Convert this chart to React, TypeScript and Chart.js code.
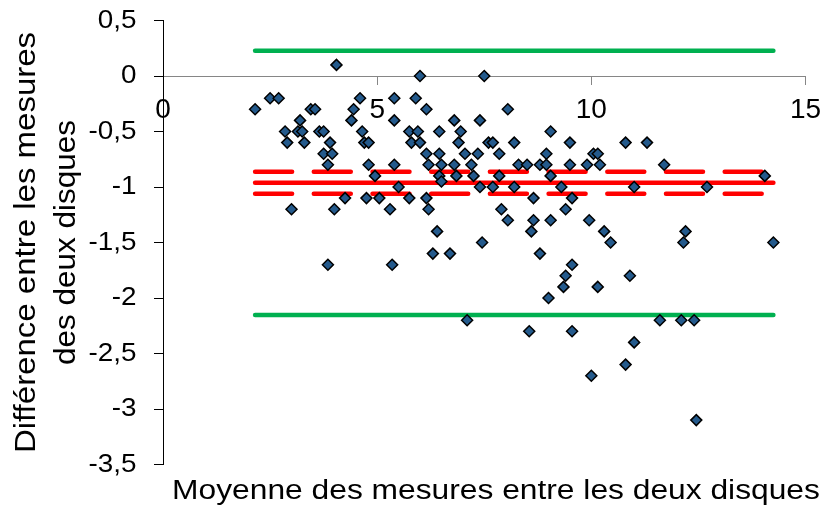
import React, { useEffect, useRef } from 'react';
import { Chart, registerables } from 'chart.js';

Chart.register(...registerables);

// Moyenne des mesures (x) et différence (y) pour chaque paire
const meanX = [
  4.05, 2.15, 2.5, 2.7, 3.45, 3.55, 3.2, 2.85, 3.15, 3.25,
  2.9, 3.3, 3.65, 3.75, 3.9, 3.75, 3.95, 3.85, 4.6, 4.45,
  4.4, 4.65, 4.7, 4.8, 4.8, 4.95, 5.4, 5.4, 5.4, 5.5,
  4.25, 4.75, 5.05, 3.0, 4.0, 5.3, 3.85, 5.35, 6.0, 7.5,
  5.9, 6.15, 8.05, 6.8, 7.4, 5.75, 5.95, 6.45, 6.95, 5.8,
  6.0, 6.9, 7.6, 7.7, 8.2, 6.15, 6.45, 7.05, 7.35, 7.85,
  8.95, 6.2, 6.5, 6.8, 7.2, 8.3, 8.5, 8.8, 8.95, 6.45,
  6.85, 7.25, 7.85, 6.5, 7.4, 7.7, 8.2, 5.75, 6.15, 8.65,
  6.2, 7.9, 8.05, 8.65, 9.05, 8.6, 6.4, 7.45, 6.3, 6.7,
  8.8, 9.0, 7.1, 8.55, 9.05, 9.5, 10.8, 11.3, 10.05, 10.15,
  9.5, 9.9, 10.2, 11.7, 9.05, 9.3, 11.0, 9.55, 9.4, 9.95,
  10.3, 10.45, 12.2, 12.15, 9.55, 9.4, 9.35, 10.15, 10.9, 11.6,
  12.1, 12.4, 9.55, 11.0, 10.8, 10.0, 12.45, 14.05, 12.7, 14.25
];
const diffY = [
  0.1, -0.3, -0.2, -0.2, -0.3, -0.3, -0.4, -0.5, -0.5, -0.5,
  -0.6, -0.6, -0.5, -0.5, -0.6, -0.7, -0.7, -0.8, -0.2, -0.3,
  -0.4, -0.5, -0.6, -0.6, -0.8, -0.9, -0.2, -0.4, -0.8, -1.0,
  -1.1, -1.1, -1.1, -1.2, -1.2, -1.2, -1.7, -1.7, 0.0, 0.0,
  -0.2, -0.3, -0.3, -0.4, -0.4, -0.5, -0.5, -0.5, -0.5, -0.6,
  -0.6, -0.6, -0.6, -0.6, -0.6, -0.7, -0.7, -0.7, -0.7, -0.7,
  -0.7, -0.8, -0.8, -0.8, -0.8, -0.8, -0.8, -0.8, -0.8, -0.9,
  -0.9, -0.9, -0.9, -0.95, -1.0, -1.0, -1.0, -1.1, -1.1, -1.1,
  -1.2, -1.2, -1.3, -1.3, -1.3, -1.4, -1.4, -1.5, -1.6, -1.6,
  -1.6, -2.0, -2.2, -2.3, -0.5, -0.6, -0.6, -0.6, -0.7, -0.7,
  -0.8, -0.8, -0.8, -0.8, -0.9, -1.0, -1.0, -1.1, -1.2, -1.3,
  -1.4, -1.5, -1.4, -1.5, -1.7, -1.8, -1.9, -1.9, -1.8, -2.2,
  -2.2, -2.2, -2.3, -2.4, -2.6, -2.7, -3.1, -0.9, -1.0, -1.5
];

// Limites d'agrément, biais moyen et son intervalle de confiance
const limitsY = [0.228, -2.153];
const biasY = -0.961;
const biasCIY = [-0.862, -1.06];
const lineX = [2.15, 14.25];

const xTicks = [0, 5, 10, 15];
const yTicks = [0.5, 0, -0.5, -1, -1.5, -2, -2.5, -3, -3.5];

const xTitle = 'Moyenne des mesures entre les deux disques';
const yTitle = ['Différence entre les mesures', 'des deux disques'];

const FONT = '"Liberation Sans", Arial, sans-serif';

function drawText(
  ctx: CanvasRenderingContext2D,
  text: string,
  x: number,
  y: number,
  size: number,
  sx: number,
  align: CanvasTextAlign,
  baseline: CanvasTextBaseline,
  rotate = 0
) {
  ctx.save();
  ctx.translate(x, y);
  if (rotate) ctx.rotate(rotate);
  ctx.scale(sx, 1);
  ctx.font = `${size}px ${FONT}`;
  ctx.fillStyle = '#000';
  ctx.textAlign = align;
  ctx.textBaseline = baseline;
  ctx.fillText(text, 0, 0);
  ctx.restore();
}

const textPlugin = {
  id: 'excelText',
  afterDraw(chart: any) {
    const ctx = chart.ctx as CanvasRenderingContext2D;
    const xs = chart.scales.x;
    const ys = chart.scales.y;
    const axisX = xs.getPixelForValue(0);
    const axisY = ys.getPixelForValue(0);
    yTicks.forEach((v) => {
      const label = String(v).replace('.', ',');
      drawText(ctx, label, axisX - 26.5, ys.getPixelForValue(v), 26, 1.07, 'right', 'middle');
    });
    xTicks.forEach((v) => {
      drawText(ctx, String(v), xs.getPixelForValue(v), axisY + 34.5, 28, 1.0, 'center', 'middle');
    });
    drawText(ctx, xTitle, 496, 498.5, 27, 1.176, 'center', 'alphabetic');
    const midY = (chart.chartArea.top + chart.chartArea.bottom) / 2;
    drawText(ctx, yTitle[0], 35, midY, 30, 1.1, 'center', 'alphabetic', -Math.PI / 2);
    drawText(ctx, yTitle[1], 75, midY, 30, 1.05, 'center', 'alphabetic', -Math.PI / 2);
  }
};

export default function App() {
  const ref = useRef<HTMLCanvasElement | null>(null);

  useEffect(() => {
    document.body.style.margin = '0';
    const canvas = ref.current;
    if (!canvas) return;
    const points = meanX.map((x, i) => ({ x, y: diffY[i] }));
    const hline = (y: number) => lineX.map((x) => ({ x, y }));

    const lineBase = {
      type: 'line' as const,
      pointRadius: 0,
      fill: false,
      tension: 0,
      borderCapStyle: 'round' as const,
      order: 2
    };

    const chart = new Chart(canvas, {
      type: 'scatter',
      data: {
        datasets: [
          {
            label: 'Différences',
            data: points,
            pointStyle: 'rectRot',
            pointRadius: 5.5,
            pointBorderWidth: 1.5,
            backgroundColor: '#245A8C',
            borderColor: '#000000',
            order: 0
          },
          { ...lineBase, label: 'LSA', data: hline(limitsY[0]), borderColor: '#00B050', borderWidth: 4.5 },
          { ...lineBase, label: 'LIA', data: hline(limitsY[1]), borderColor: '#00B050', borderWidth: 4.5 },
          { ...lineBase, label: 'Biais', data: hline(biasY), borderColor: '#FF0000', borderWidth: 4.5 },
          { ...lineBase, label: 'IC sup', data: hline(biasCIY[0]), borderColor: '#FF0000', borderWidth: 4.5, borderDash: [37, 21.7] },
          { ...lineBase, label: 'IC inf', data: hline(biasCIY[1]), borderColor: '#FF0000', borderWidth: 4.5, borderDash: [37, 21.7] }
        ] as any
      },
      options: {
        responsive: false,
        animation: false,
        events: [],
        layout: { padding: { left: 163, right: 19.5, top: 20.5, bottom: 41.5 } },
        plugins: { legend: { display: false }, tooltip: { enabled: false }, title: { display: false } },
        scales: {
          x: {
            type: 'linear',
            position: { y: 0 } as any,
            min: 0,
            max: 15,
            ticks: { display: false, stepSize: 5 },
            grid: { display: true, drawOnChartArea: false, drawTicks: true, tickLength: 8, color: '#868686', lineWidth: 1 },
            border: { display: true, color: '#868686', width: 1 },
            title: { display: false }
          },
          y: {
            type: 'linear',
            position: { x: 0 } as any,
            min: -3.5,
            max: 0.5,
            ticks: { display: false, stepSize: 0.5 },
            grid: { display: true, drawOnChartArea: false, drawTicks: true, tickLength: 9, color: '#000000', lineWidth: 1 },
            border: { display: true, color: '#000000', width: 1 },
            title: { display: false }
          }
        }
      },
      plugins: [textPlugin]
    });
    return () => chart.destroy();
  }, []);

  return (
    <div style={{ width: 825, height: 506, background: '#fff' }}>
      <canvas ref={ref} width={825} height={506} />
    </div>
  );
}
